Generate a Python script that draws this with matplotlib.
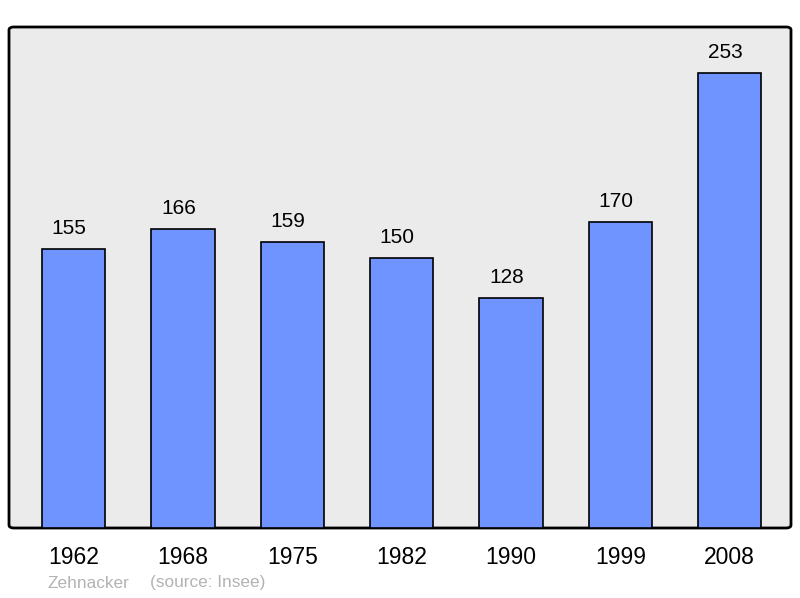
import matplotlib
matplotlib.use("Agg")
import matplotlib.pyplot as plt
from matplotlib.patches import FancyBboxPatch

years = ["1962", "1968", "1975", "1982", "1990", "1999", "2008"]
population = [155, 166, 159, 150, 128, 170, 253]

plt.rcParams['font.family'] = ['Liberation Sans', 'DejaVu Sans']

fig = plt.figure(figsize=(8, 5.98), dpi=100)
ax = fig.add_axes([9/800, 70/598, 782/800, 501/598])
ax.set_facecolor('none')
for s in ax.spines.values():
    s.set_visible(False)

frame = FancyBboxPatch((0, 0), 1, 1, boxstyle="round,pad=0,rounding_size=0.006",
                       transform=ax.transAxes, facecolor='#ebebeb', edgecolor='black',
                       linewidth=2, zorder=0, clip_on=False)
ax.add_patch(frame)

x = list(range(len(years)))
bars = ax.bar(x, population, width=0.58, color='#7094ff', edgecolor='black',
              linewidth=1.2, zorder=2)
for xi, v in zip(x, population):
    ax.text(xi - 0.04, v + 11.5, str(v), ha='center', va='center', fontsize=15, color='black')

ax.set_xlim(-0.59, 6.56)
ax.set_ylim(0, 278.6)
ax.set_yticks([])
ax.set_xticks(x)
ax.set_xticklabels(years, fontsize=16.5)
ax.tick_params(axis='x', length=0, pad=13)

fig.text(48/800, 1 - 583/598, "Zehnacker", color='#b3b3b3', fontsize=12.4, va='center')
fig.text(150/800, 1 - 583/598, "(source: Insee)", color='#b3b3b3', fontsize=12.4, va='center')

fig.savefig("out.png", dpi=100, facecolor='white')
